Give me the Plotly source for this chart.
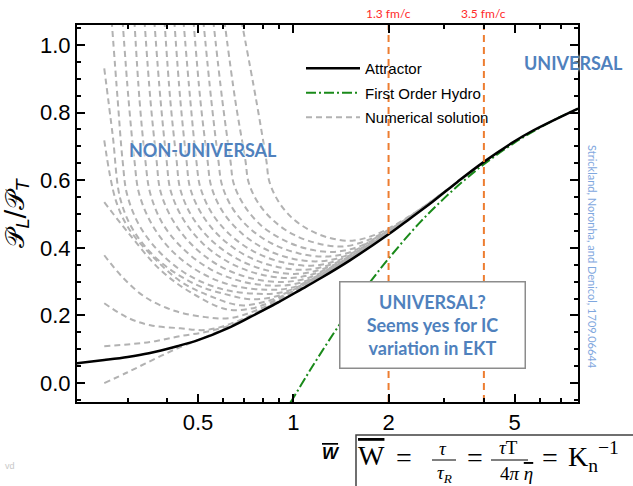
import math
import plotly.graph_objects as go

# ---------------- data ----------------
# attractor
attractor_w = [0.20, 0.253, 0.30, 0.35, 0.43, 0.50, 0.62, 0.73, 0.89, 1.05, 1.22, 1.51,
               2.0, 2.34, 2.76, 3.3, 3.97, 5.0, 5.72, 7.93]
attractor_y = [0.057, 0.068, 0.077, 0.088, 0.109, 0.127, 0.162, 0.195, 0.237, 0.275, 0.31, 0.363,
               0.44, 0.487, 0.537, 0.595, 0.652, 0.715, 0.747, 0.812]

# first order hydro
hydro_w = [0.98, 1.0, 1.1, 1.2, 1.35, 1.5, 1.75, 2.0, 2.5, 3.0, 3.5, 4.0, 5.0, 6.0, 7.0, 8.0]
hydro_y = [-0.057, -0.044, 0.020, 0.077, 0.151, 0.213, 0.299, 0.368, 0.473, 0.547, 0.603,
           0.647, 0.711, 0.755, 0.788, 0.813]

# numerical solutions (grey dashed), starting at the left
num_L1_w = [0.253, 0.300, 0.359, 0.431, 0.509, 0.633]
num_L1_y = [0.000, 0.032, 0.068, 0.103, 0.130, 0.167]
num_L2_w = [0.253, 0.306, 0.367, 0.440, 0.528, 0.633, 0.759, 0.910]
num_L2_y = [0.109, 0.115, 0.124, 0.139, 0.151, 0.171, 0.204, 0.241]
num_L3_w = [0.253, 0.302, 0.354, 0.440, 0.528, 0.633, 0.787, 1.052]
num_L3_y = [0.236, 0.192, 0.171, 0.162, 0.157, 0.175, 0.214, 0.276]
num_L4_w = [0.253, 0.289, 0.341, 0.424, 0.528, 0.633, 0.759, 0.944, 1.262]
num_L4_y = [0.378, 0.313, 0.254, 0.213, 0.195, 0.192, 0.214, 0.254, 0.320]
num_L5_w = [0.253, 0.302, 0.381, 0.473, 0.610, 0.732, 0.878, 1.091, 1.459]
num_L5_y = [0.535, 0.443, 0.334, 0.269, 0.219, 0.220, 0.245, 0.288, 0.356]
num_L6_w = [0.253, 0.275, 0.302, 0.354, 0.440, 0.547, 0.681, 0.816, 0.978, 1.217, 1.627]
num_L6_y = [0.718, 0.541, 0.458, 0.381, 0.301, 0.257, 0.230, 0.241, 0.268, 0.314, 0.385]
num_L7_w = [0.253, 0.269, 0.285, 0.317, 0.381, 0.491, 0.610, 0.732, 0.878, 1.052, 1.308, 1.749]
num_L7_y = [0.931, 0.733, 0.541, 0.443, 0.358, 0.292, 0.263, 0.248, 0.256, 0.285, 0.332, 0.404]
# numerical solutions entering from the top
num_T1_w = [0.267, 0.279, 0.289, 0.299, 0.329, 0.386, 0.473, 0.601, 0.776, 0.930, 1.115, 1.387, 1.854]
num_T1_y = [1.072, 0.836, 0.659, 0.556, 0.461, 0.379, 0.316, 0.277, 0.264, 0.269, 0.299, 0.346, 0.421]
num_T2_w = [0.289, 0.302, 0.315, 0.326, 0.359, 0.417, 0.509, 0.641, 0.822, 0.986, 1.182, 1.469, 1.965]
num_T2_y = [1.072, 0.836, 0.659, 0.560, 0.467, 0.388, 0.327, 0.289, 0.276, 0.282, 0.313, 0.360, 0.437]
num_T3_w = [0.315, 0.327, 0.341, 0.353, 0.386, 0.449, 0.545, 0.684, 0.871, 1.045, 1.253, 1.557, 2.083]
num_T3_y = [1.072, 0.836, 0.659, 0.563, 0.473, 0.397, 0.338, 0.301, 0.288, 0.296, 0.327, 0.375, 0.454]
num_T4_w = [0.339, 0.354, 0.370, 0.381, 0.418, 0.483, 0.584, 0.729, 0.923, 1.107, 1.327, 1.651, 2.207]
num_T4_y = [1.072, 0.836, 0.659, 0.566, 0.479, 0.405, 0.347, 0.311, 0.299, 0.310, 0.342, 0.391, 0.472]
num_T5_w = [0.364, 0.381, 0.398, 0.410, 0.449, 0.518, 0.624, 0.775, 0.978, 1.173, 1.407, 1.749, 2.339]
num_T5_y = [1.072, 0.836, 0.659, 0.569, 0.485, 0.413, 0.358, 0.323, 0.311, 0.324, 0.356, 0.408, 0.489]
num_T6_w = [0.392, 0.409, 0.428, 0.440, 0.480, 0.553, 0.663, 0.820, 1.029, 1.235, 1.480, 1.841, 2.461]
num_T6_y = [1.072, 0.836, 0.659, 0.572, 0.491, 0.421, 0.368, 0.334, 0.323, 0.337, 0.368, 0.422, 0.504]
num_T7_w = [0.421, 0.440, 0.460, 0.473, 0.516, 0.591, 0.706, 0.867, 1.083, 1.299, 1.557, 1.937, 2.590]
num_T7_y = [1.072, 0.836, 0.659, 0.575, 0.497, 0.430, 0.378, 0.346, 0.335, 0.349, 0.381, 0.436, 0.519]
num_T8_w = [0.450, 0.473, 0.494, 0.509, 0.553, 0.631, 0.751, 0.918, 1.140, 1.367, 1.639, 2.038, 2.725]
num_T8_y = [1.072, 0.836, 0.659, 0.578, 0.503, 0.439, 0.389, 0.358, 0.347, 0.361, 0.396, 0.451, 0.534]
num_T9_w = [0.484, 0.509, 0.536, 0.551, 0.597, 0.678, 0.801, 0.973, 1.199, 1.438, 1.724, 2.144, 2.867]
num_T9_y = [1.072, 0.836, 0.659, 0.581, 0.509, 0.448, 0.400, 0.370, 0.360, 0.374, 0.410, 0.466, 0.550]
num_T10_w = [0.520, 0.551, 0.580, 0.596, 0.644, 0.730, 0.859, 1.037, 1.271, 1.524, 1.827, 2.272, 3.038]
num_T10_y = [1.072, 0.836, 0.659, 0.585, 0.516, 0.457, 0.412, 0.384, 0.374, 0.388, 0.430, 0.483, 0.569]
num_T11_w = [0.559, 0.597, 0.633, 0.649, 0.701, 0.790, 0.923, 1.108, 1.347, 1.615, 1.937, 2.408, 3.220]
num_T11_y = [1.072, 0.836, 0.659, 0.589, 0.524, 0.467, 0.425, 0.397, 0.388, 0.404, 0.442, 0.500, 0.587]
num_T12_w = [0.606, 0.656, 0.706, 0.723, 0.776, 0.869, 1.007, 1.196, 1.438, 1.724, 2.068, 2.571, 3.438]
num_T12_y = [1.072, 0.836, 0.659, 0.593, 0.532, 0.479, 0.438, 0.413, 0.404, 0.423, 0.461, 0.520, 0.607]
num_T13_w = [0.686, 0.764, 0.822, 0.840, 0.894, 0.987, 1.123, 1.306, 1.535, 1.841, 2.207, 2.744, 3.670]
num_T13_y = [1.072, 0.836, 0.659, 0.597, 0.540, 0.490, 0.453, 0.429, 0.421, 0.441, 0.480, 0.539, 0.628]

# vertical time markers
marker_w = [2.0, 4.0]
marker_labels = ["1.3 fm/c", "3.5 fm/c"]

# ticks
x_tick_vals = [0.5, 1, 2, 5]
x_tick_text = ["0.5", "1", "2", "5"]
x_minor_vals = [0.3, 0.4, 0.6, 0.7, 0.8, 0.9, 3, 4, 6, 7]
y_tick_vals = [0.0, 0.2, 0.4, 0.6, 0.8, 1.0]
y_tick_text = ["0.0", "0.2", "0.4", "0.6", "0.8", "1.0"]

x_range = [0.2075, 7.93]
y_range = [-0.056, 1.059]

num_curves = [
    (num_L1_w, num_L1_y), (num_L2_w, num_L2_y), (num_L3_w, num_L3_y), (num_L4_w, num_L4_y),
    (num_L5_w, num_L5_y), (num_L6_w, num_L6_y), (num_L7_w, num_L7_y),
    (num_T1_w, num_T1_y), (num_T2_w, num_T2_y), (num_T3_w, num_T3_y), (num_T4_w, num_T4_y),
    (num_T5_w, num_T5_y), (num_T6_w, num_T6_y), (num_T7_w, num_T7_y), (num_T8_w, num_T8_y),
    (num_T9_w, num_T9_y), (num_T10_w, num_T10_y), (num_T11_w, num_T11_y),
    (num_T12_w, num_T12_y), (num_T13_w, num_T13_y),
]

# ---------------- styles ----------------
GRAY = "#b2b2b2"
GREEN = "#1a8a1a"
ORANGE = "#ED7D31"
BLUE = "#4F81BD"
LIGHTBLUE = "#7FA7DE"
RED = "#FF2A2A"
SANS = "Liberation Sans, Arial, sans-serif"
CAL = "Lato, Open Sans, sans-serif"
SERIF = "Liberation Serif, DejaVu Serif, serif"

fig = go.Figure()

for i, (w, y) in enumerate(num_curves):
    fig.add_trace(go.Scatter(
        x=w, y=y, mode="lines",
        line=dict(color=GRAY, width=2, dash="6px,4px", shape="spline", smoothing=1.0),
        name="Numerical solution", legendgroup="num", legendrank=3,
        showlegend=(i == 0), hoverinfo="skip"))

fig.add_trace(go.Scatter(
    x=hydro_w, y=hydro_y, mode="lines",
    line=dict(color=GREEN, width=2, dash="10px,3px,2px,3px", shape="spline"),
    name="First Order Hydro", legendgroup="hyd", legendrank=2, hoverinfo="skip"))

fig.add_trace(go.Scatter(
    x=attractor_w, y=attractor_y, mode="lines",
    line=dict(color="black", width=2.5, shape="spline"),
    name="Attractor", legendgroup="att", legendrank=1, hoverinfo="skip"))

for w in marker_w:
    fig.add_trace(go.Scatter(
        x=[w, w], y=y_range, mode="lines",
        line=dict(color=ORANGE, width=2, dash="7px,5px"),
        showlegend=False, hoverinfo="skip"))

L, R, T, B = 77, 55, 25, 84
W_PX, H_PX = 633, 486
pw, ph = W_PX - L - R, H_PX - T - B


def px(xp):
    return (xp - L) / pw


def py(yp):
    return (H_PX - B - yp) / ph


annotations = []
for w, lab in zip(marker_w, marker_labels):
    annotations.append(dict(x=math.log10(w), xref="x", y=py(13), yref="paper", text=lab,
                            showarrow=False, font=dict(family=CAL, size=12, color=RED),
                            xanchor="center", yanchor="middle"))

glow = "0px 0px 3px #ffffff, 0px 0px 3px #ffffff"
annotations += [
    dict(x=px(573), y=py(63), xref="paper", yref="paper", text="UNIVERSAL", showarrow=False,
         font=dict(family=CAL, size=18, color=BLUE, weight=700, shadow=glow),
         xanchor="center", yanchor="middle"),
    dict(x=px(203), y=py(150), xref="paper", yref="paper", text="NON-UNIVERSAL", showarrow=False,
         font=dict(family=CAL, size=18, color=BLUE, weight=700, shadow=glow),
         xanchor="center", yanchor="middle"),
    dict(x=px(432), y=py(325), xref="paper", yref="paper",
         text="UNIVERSAL?<br>Seems yes for IC<br>variation in EKT", showarrow=False,
         font=dict(family=CAL, size=18, color=BLUE, weight=700),
         bgcolor="white", bordercolor="#8c8c8c", borderwidth=1.5, borderpad=4,
         width=176, height=77, align="center", xanchor="center", yanchor="middle"),
    dict(x=px(593), y=py(257), xref="paper", yref="paper",
         text="Strickland, Noronha, and Denicol, 1709.06644", showarrow=False, textangle=90,
         font=dict(family=CAL, size=11, color=LIGHTBLUE), xanchor="center", yanchor="middle"),
    # axis label
    dict(x=px(331), y=py(453), xref="paper", yref="paper",
         text='<span style="text-decoration:overline"><b><i>W</i></b></span>', showarrow=False,
         font=dict(family=SANS, size=17, color="black"), xanchor="center", yanchor="middle"),
    # formula
    dict(x=px(371), y=py(455), xref="paper", yref="paper",
         text='<span style="text-decoration:overline">W</span>', showarrow=False,
         font=dict(family=SERIF, size=28, color="black"), xanchor="center", yanchor="middle"),
    dict(x=px(403.5), y=py(457), xref="paper", yref="paper", text="=", showarrow=False,
         font=dict(family=SERIF, size=28, color="black"), xanchor="center", yanchor="middle"),
    dict(x=px(443), y=py(448), xref="paper", yref="paper", text="<i>τ</i>", showarrow=False,
         font=dict(family=SERIF, size=19, color="black"), xanchor="center", yanchor="middle"),
    dict(x=px(444), y=py(474), xref="paper", yref="paper", text="<i>τ<sub>R</sub></i>", showarrow=False,
         font=dict(family=SERIF, size=19, color="black"), xanchor="center", yanchor="middle"),
    dict(x=px(475), y=py(457), xref="paper", yref="paper", text="=", showarrow=False,
         font=dict(family=SERIF, size=28, color="black"), xanchor="center", yanchor="middle"),
    dict(x=px(508), y=py(447), xref="paper", yref="paper", text="<i>τ</i>T", showarrow=False,
         font=dict(family=SERIF, size=19, color="black"), xanchor="center", yanchor="middle"),
    dict(x=px(516), y=py(474), xref="paper", yref="paper",
         text='4<i>π</i> <span style="text-decoration:overline"><i>η</i></span>', showarrow=False,
         font=dict(family=SERIF, size=19, color="black"), xanchor="center", yanchor="middle"),
    dict(x=px(549.5), y=py(457), xref="paper", yref="paper", text="=", showarrow=False,
         font=dict(family=SERIF, size=28, color="black"), xanchor="center", yanchor="middle"),
    dict(x=px(566), y=py(456), xref="paper", yref="paper", text="K<sub>n</sub><sup>−1</sup>",
         showarrow=False, font=dict(family=SERIF, size=28, color="black"),
         xanchor="left", yanchor="middle"),
    dict(x=px(10), y=py(466), xref="paper", yref="paper", text="vd", showarrow=False,
         font=dict(family=SANS, size=9, color="#c8c8c8"), xanchor="center", yanchor="middle"),
]

shapes = [
    dict(type="rect", xref="paper", yref="paper", x0=px(356), x1=px(645), y0=py(495), y1=py(435),
         line=dict(color="#404040", width=1.5), fillcolor="rgba(0,0,0,0)", layer="above"),
    dict(type="line", xref="paper", yref="paper", x0=px(432), x1=px(456), y0=py(460), y1=py(460),
         line=dict(color="black", width=1)),
    dict(type="line", xref="paper", yref="paper", x0=px(491), x1=px(528), y0=py(460), y1=py(460),
         line=dict(color="black", width=1)),
]

fig.update_layout(
    width=W_PX, height=H_PX,
    margin=dict(l=L, r=R, t=T, b=B, autoexpand=False),
    paper_bgcolor="white", plot_bgcolor="white",
    showlegend=True,
    legend=dict(x=px(301), y=py(52), xanchor="left", yanchor="top", bgcolor="rgba(0,0,0,0)",
                font=dict(family=SANS, size=15, color="black"), itemwidth=54,
                tracegroupgap=2, traceorder="grouped"),
    xaxis=dict(type="log", range=[math.log10(x_range[0]), math.log10(x_range[1])],
               tickmode="array", tickvals=x_tick_vals, ticktext=x_tick_text,
               ticks="inside", ticklen=8, tickwidth=2, tickcolor="black",
               showline=True, linewidth=2, linecolor="black", mirror="allticks",
               showgrid=False, zeroline=False, automargin=False,
               tickfont=dict(family=SANS, size=22, color="black"),
               minor=dict(tickmode="array", tickvals=x_minor_vals, ticks="inside", ticklen=4,
                          tickwidth=1.5, tickcolor="black", showgrid=False)),
    yaxis=dict(range=y_range, tickmode="array", tickvals=y_tick_vals, ticktext=y_tick_text,
               ticks="inside", ticklen=8, tickwidth=2, tickcolor="black",
               showline=True, linewidth=2, linecolor="black", mirror="allticks",
               showgrid=False, zeroline=False, automargin=False,
               tickfont=dict(family=SANS, size=22, color="black"),
               minor=dict(tickmode="linear", tick0=0, dtick=0.05, ticks="inside", ticklen=4,
                          tickwidth=1.5, tickcolor="black", showgrid=False),
               title=dict(text="𝒫<sub><i>L</i></sub>/𝒫<sub><i>T</i></sub>",
                          font=dict(family="DejaVu Sans", size=26, color="black"), standoff=8)),
    annotations=annotations,
    shapes=shapes,
)

fig.write_html("out.html", config={"displayModeBar": False},
               post_script="document.body.style.margin='0';document.body.style.overflow='hidden';")
